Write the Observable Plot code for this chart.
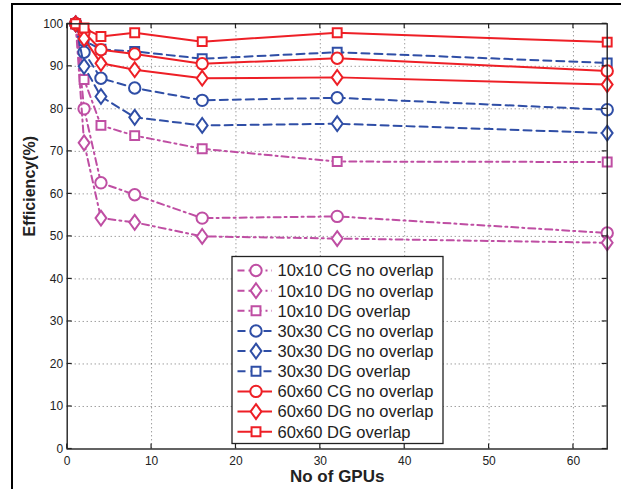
<!DOCTYPE html>
<html>
<head>
<meta charset="utf-8">
<script src="https://cdn.jsdelivr.net/npm/d3@7"></script>
<script src="https://cdn.jsdelivr.net/npm/@observablehq/plot@0.6"></script>
<style>
  body { margin: 0; background: #fff; }
  #wrap { position: relative; width: 621px; height: 489px; overflow: hidden; font-family: "Liberation Sans", Arial, Helvetica, sans-serif; }
  #wrap svg { position: absolute; left: 0; top: 0; }
  #border { position: absolute; left: 11px; top: 3px; width: 640px; height: 520px; border-top: 2px solid #000; border-left: 2px solid #000; pointer-events: none; }
</style>
</head>
<body>
<div id="wrap"><div id="border"></div></div>
<script>
// Number of GPUs on the x axis
const gpus = [1, 2, 4, 8, 16, 32, 64];

// Parallel efficiency (%) per configuration
const eff10CG   = [100, 80.0, 62.6, 59.8, 54.3, 54.7, 50.8];
const eff10DG   = [100, 72.0, 54.3, 53.3, 50.0, 49.5, 48.5];
const eff10DGov = [100, 86.9, 76.1, 73.7, 70.6, 67.6, 67.5];
const eff30CG   = [100, 93.3, 87.2, 84.9, 82.0, 82.6, 79.8];
const eff30DG   = [100, 90.0, 82.9, 78.0, 76.1, 76.5, 74.3];
const eff30DGov = [100, 96.0, 94.0, 93.5, 91.8, 93.3, 90.8];
const eff60CG   = [100, 98.0, 93.9, 92.9, 90.6, 91.9, 88.9];
const eff60DG   = [100, 96.5, 90.7, 89.2, 87.2, 87.4, 85.7];
const eff60DGov = [100, 99.0, 97.0, 97.9, 95.8, 97.9, 95.7];

const seriesNames = [
  "10x10 CG no overlap", "10x10 DG no overlap", "10x10 DG overlap",
  "30x30 CG no overlap", "30x30 DG no overlap", "30x30 DG overlap",
  "60x60 CG no overlap", "60x60 DG no overlap", "60x60 DG overlap"
];
const seriesValues = [eff10CG, eff10DG, eff10DGov, eff30CG, eff30DG, eff30DGov, eff60CG, eff60DG, eff60DGov];

const xTicks = [0, 10, 20, 30, 40, 50, 60];
const yTicks = [0, 10, 20, 30, 40, 50, 60, 70, 80, 90, 100];

// Styling per mesh size
const colors = { "10x10": "#bf4ea3", "30x30": "#2f4ea6", "60x60": "#ee1f26" };
const dashes = { "10x10": "7,4,2,4", "30x30": "8,5", "60x60": null };

// Outline marker shapes (radius derived from the dot size)
const circleSym = { draw(ctx, size) { const r = Math.sqrt(size / Math.PI); ctx.moveTo(r, 0); ctx.arc(0, 0, r, 0, 2 * Math.PI); ctx.closePath(); } };
const squareSym = { draw(ctx, size) { const r = Math.sqrt(size / Math.PI) * 0.78; ctx.rect(-r, -r, 2 * r, 2 * r); } };
const diamondSym = { draw(ctx, size) { const r = Math.sqrt(size / Math.PI); const w = r * 0.95, h = r * 1.3; ctx.moveTo(0, -h); ctx.lineTo(w, 0); ctx.lineTo(0, h); ctx.lineTo(-w, 0); ctx.closePath(); } };
function symbolFor(name) {
  if (name.includes("CG")) return circleSym;
  if (name.includes("overlap") && !name.includes("no overlap")) return squareSym;
  return diamondSym;
}

const series = seriesNames.map((name, i) => {
  const mesh = name.slice(0, 5);
  return {
    name, mesh,
    color: colors[mesh], dash: dashes[mesh], symbol: symbolFor(name),
    rows: gpus.map((g, j) => ({ gpus: g, eff: seriesValues[i][j], name }))
  };
});

const fontFamily = '"Liberation Sans", Arial, Helvetica, sans-serif';
const dataMarks = series.flatMap(s => [
  Plot.line(s.rows, { x: "gpus", y: "eff", stroke: s.color, strokeWidth: 2, strokeDasharray: s.dash, strokeLinejoin: "round" }),
  Plot.dot(s.rows, { x: "gpus", y: "eff", r: 5.7, symbol: s.symbol, stroke: s.color, strokeWidth: 2, fill: "white" })
]);

const plot = Plot.plot({
  width: 621,
  height: 489,
  marginLeft: 66.7,
  marginRight: 14.3,
  marginTop: 23.3,
  marginBottom: 40.5,
  style: { fontFamily, background: "transparent", overflow: "visible" },
  x: { domain: [0, 64] },
  y: { domain: [0, 100] },
  marks: [
    Plot.gridX(xTicks.filter(d => d > 0), { stroke: "#000", strokeOpacity: 0.55, strokeDasharray: "1,3" }),
    Plot.gridY(yTicks.filter(d => d > 0 && d < 100), { stroke: "#000", strokeOpacity: 0.55, strokeDasharray: "1,3" }),
    ...dataMarks,
    Plot.axisX(xTicks, { tickSize: 0, tickPadding: 7.5, fontSize: 12, label: null, fill: "#222" }),
    Plot.axisY(yTicks, { tickSize: 0, tickPadding: 4, fontSize: 12, label: null, fill: "#222" }),
    Plot.frame({ stroke: "#222", strokeWidth: 1.4 }),
    Plot.text(["No of GPUs"], { frameAnchor: "bottom", dy: 28, fontSize: 17, fontWeight: "bold", fill: "#222", lineAnchor: "middle" }),
    Plot.text(["Efficiency(%)"], { frameAnchor: "left", dx: -37, rotate: -90, fontSize: 16, fontWeight: "bold", fill: "#222", lineAnchor: "middle" })
  ]
});

document.getElementById("wrap").insertBefore(plot, document.getElementById("border"));

const xs = plot.scale("x"), ys = plot.scale("y");
const svg = d3.select(plot);
const [x0, x1] = [xs.apply(0), xs.apply(64)];
const [y0, y1] = [ys.apply(0), ys.apply(100)];

// Legend box with line samples and markers
const lg = svg.append("g").attr("font-family", fontFamily).attr("text-anchor", "start");
const box = { x: 232, y: 256.5, w: 211, h: 187 };
lg.append("rect").attr("x", box.x).attr("y", box.y).attr("width", box.w).attr("height", box.h)
  .attr("fill", "white").attr("stroke", "#222").attr("stroke-width", 1.3);
series.forEach((s, i) => {
  const cy = 270.5 + i * 20.15;
  lg.append("line").attr("x1", 237.5).attr("x2", 272).attr("y1", cy).attr("y2", cy)
    .attr("stroke", s.color).attr("stroke-width", 2).attr("stroke-dasharray", s.dash);
  const p = d3.path();
  s.symbol.draw(p, Math.PI * 5.7 * 5.7);
  lg.append("path").attr("d", p.toString()).attr("transform", `translate(256,${cy})`)
    .attr("fill", "white").attr("stroke", s.color).attr("stroke-width", 2);
  lg.append("text").attr("x", 277.5).attr("y", cy).attr("dy", "0.36em")
    .attr("text-anchor", "start")
    .attr("font-size", 16.5).attr("fill", "#222").text(s.name);
});

// Inward tick marks on all four sides
const tk = svg.append("g").attr("stroke", "#222").attr("stroke-width", 1.2);
const len = 5;
xTicks.forEach(v => {
  const px = xs.apply(v);
  tk.append("line").attr("x1", px).attr("x2", px).attr("y1", y0).attr("y2", y0 - len);
  tk.append("line").attr("x1", px).attr("x2", px).attr("y1", y1).attr("y2", y1 + len);
});
yTicks.forEach(v => {
  const py = ys.apply(v);
  tk.append("line").attr("x1", x0).attr("x2", x0 + len).attr("y1", py).attr("y2", py);
  tk.append("line").attr("x1", x1).attr("x2", x1 - len).attr("y1", py).attr("y2", py);
});
</script>
</body>
</html>
